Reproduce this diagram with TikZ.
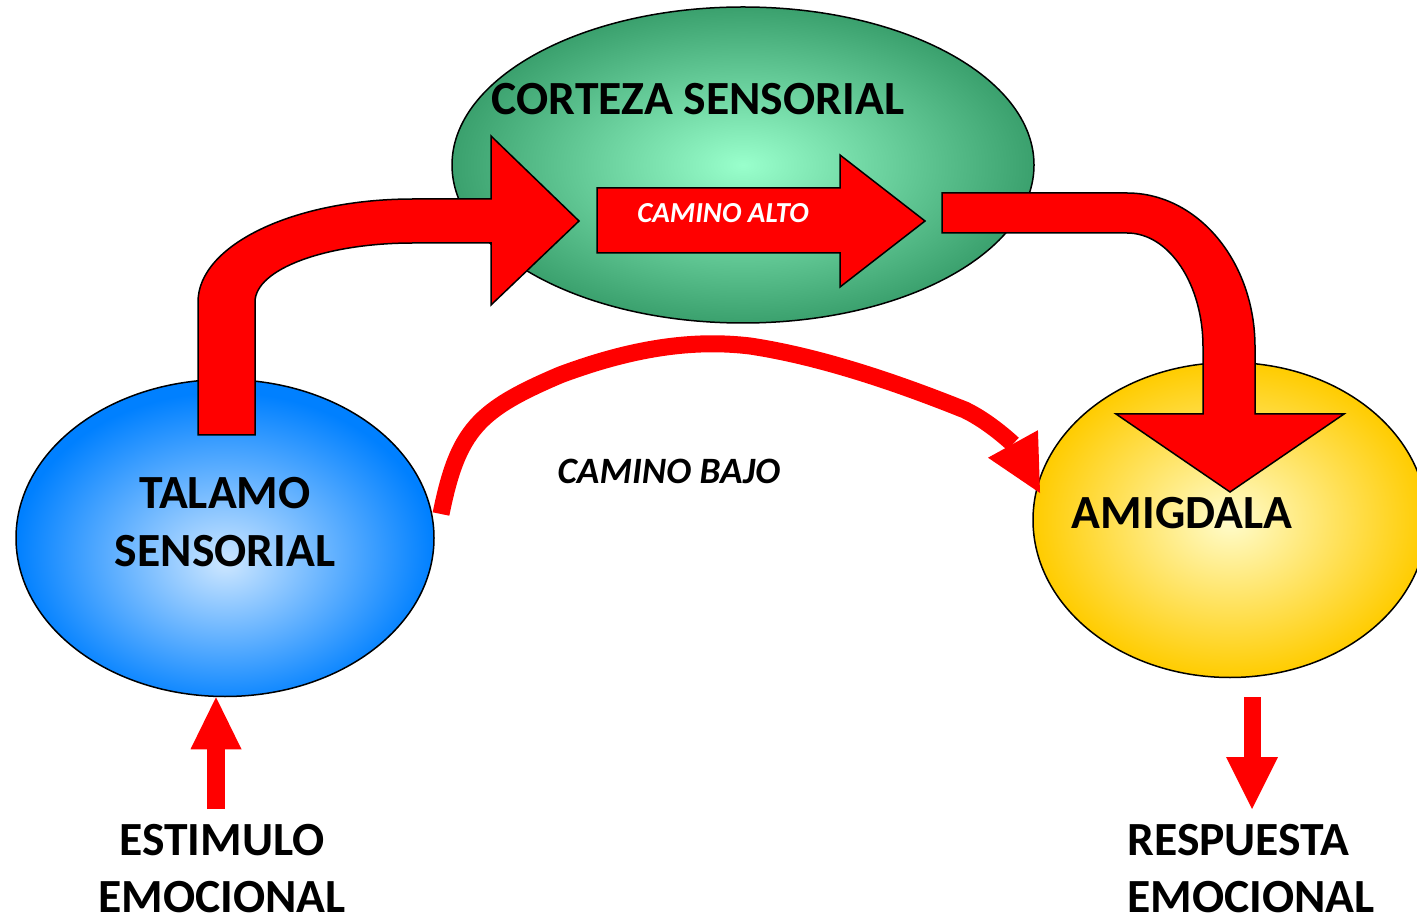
\documentclass[tikz,border=0pt]{standalone}
\usepackage{fontspec}
\newfontfamily\carlito{Carlito}
\usetikzlibrary{arrows.meta,shapes.geometric}
\definecolor{verde}{RGB}{51,153,102}
\definecolor{verdeclaro}{RGB}{153,255,204}
\definecolor{azul}{RGB}{0,128,255}
\definecolor{azulclaro}{RGB}{204,230,255}
\definecolor{amarillo}{RGB}{255,204,0}
\definecolor{amarilloclaro}{RGB}{255,252,204}
\pgfdeclareradialshading{greenball}{\pgfpoint{0bp}{0bp}}{color(0bp)=(verdeclaro); color(27bp)=(verde); color(50bp)=(verde)}
\pgfdeclareradialshading{blueball}{\pgfpoint{0bp}{-4bp}}{color(0bp)=(azulclaro); color(25bp)=(azul); color(50bp)=(azul)}
\pgfdeclareradialshading{yellowball}{\pgfpoint{0bp}{0bp}}{color(0bp)=(amarilloclaro); color(25bp)=(amarillo); color(50bp)=(amarillo)}
\tikzstyle{region}=[ellipse,draw=black,line width=0.75pt,shade,inner sep=0pt]
\tikzstyle{bigtext}=[font=\carlito\bfseries\fontsize{23.8}{28.5}\selectfont,inner sep=0pt]
\tikzstyle{pathtext}=[font=\carlito\bfseries\itshape\fontsize{18.6}{22}\selectfont,inner sep=0pt]
\tikzstyle{blockarrow}=[fill=red,draw=black,line width=0.75pt]
\tikzstyle{redarrow}=[draw=red,-{Triangle[length=26pt,width=25.5pt,line width=0pt]}]

\begin{document}
\begin{tikzpicture}[x=0.5pt,y=-0.5pt]
    \useasboundingbox (0,0) rectangle (1417,924);
    % First we draw the three regions
    \foreach \pos/\name/\ball/\rw/\rh in {{(743,165)/corteza/greenball/291pt/158pt},
        {(225,538)/talamo/blueball/209pt/158.5pt}, {(1230,520)/amigdala/yellowball/197pt/157.5pt}}
        \node[region,shading=\ball,minimum width=\rw,minimum height=\rh] (\name) at \pos {};
    % The thick block arrows (camino alto)
    \path[blockarrow] (198,435) -- (198,302) .. controls (198,245) and (294,199) .. (413,199)
        -- (491,199) -- (491,136) -- (579,221) -- (491,305) -- (491,243) -- (413,243)
        .. controls (326,243) and (255,269) .. (255,302) -- (255,435) -- cycle;
    \path[blockarrow] (597,188) -- (840,188) -- (840,155) -- (925,221) -- (840,287)
        -- (840,253) -- (597,253) -- cycle;
    \path[blockarrow] (942,193) -- (1127,193) .. controls (1198,193) and (1255,262) .. (1255,347)
        -- (1255,414) -- (1344,414) -- (1230,492) -- (1116,414) -- (1203,414) -- (1203,347)
        .. controls (1203,284) and (1169,233) .. (1127,233) -- (942,233) -- cycle;
    % Labels (base = last line)
    \node[bigtext,anchor=base] (cortezaTxt) at (698,115) {CORTEZA SENSORIAL};
    \node[bigtext,anchor=base,align=center] (talamoTxt) at (225,566) {TALAMO\\SENSORIAL};
    \node[bigtext,anchor=base] (amigdalaTxt) at (1182,528) {AMIGDALA};
    \node[pathtext,anchor=base,white,font=\carlito\bfseries\itshape\fontsize{14.5}{17}\selectfont] (altoTxt) at (723,223) {CAMINO ALTO};
    \node[pathtext,anchor=base] (bajoTxt) at (669,483) {CAMINO BAJO};
    \node[bigtext,anchor=base,align=center] (estimulo) at (222,912) {ESTIMULO\\EMOCIONAL};
    \node[bigtext,anchor=base west,align=left] (respuesta) at (1127,912) {RESPUESTA\\EMOCIONAL};
    % Camino bajo: talamo to amigdala
    \coordinate (bajoIn) at (441,514);
    \coordinate (bajoOut) at (1040,493);
    \draw[redarrow,line width=8.5pt,-{Triangle[length=28pt,width=28.5pt,line width=0pt]}] (bajoIn)
        .. controls (458,430) and (478,410) .. (560,375) .. controls (640,345) and (700,340) .. (750,346)
        .. controls (830,358) and (915,390) .. (965,410) .. controls (990,422) and (1013,444) .. (bajoOut);
    % Stimulus in, response out
    \coordinate (stimIn) at (216,809);
    \draw[redarrow,line width=9pt] (stimIn) -- (stimIn |- talamo.south);
    \coordinate (respIn) at (1252,697);
    \coordinate (respOut) at (1252,809);
    \draw[redarrow,line width=8.5pt,-{Triangle[length=26pt,width=26pt,line width=0pt]}] (respIn) -- (respOut);
\end{tikzpicture}
\end{document}
